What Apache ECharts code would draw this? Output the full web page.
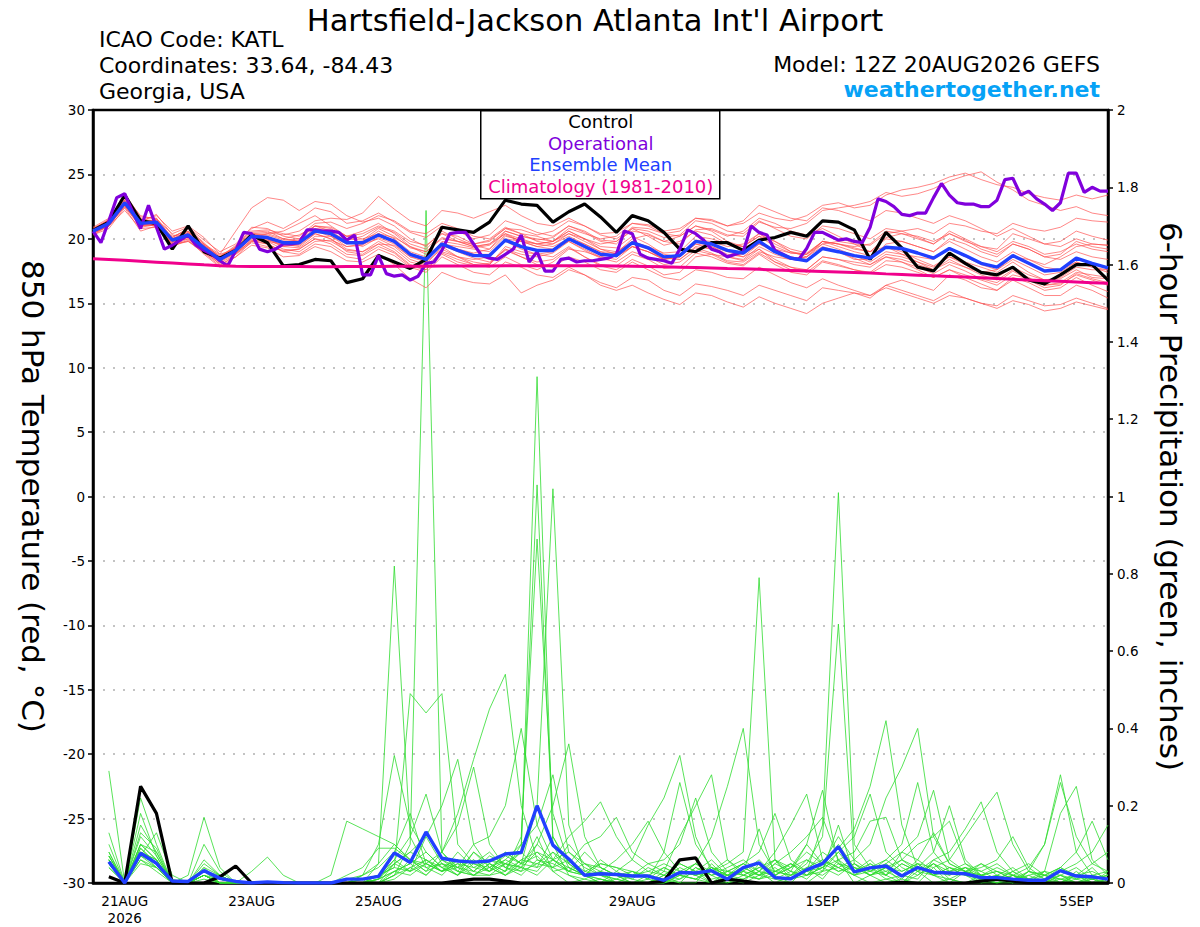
<!DOCTYPE html>
<html><head><meta charset="utf-8">
<script src="https://cdn.jsdelivr.net/npm/echarts/dist/echarts.min.js"></script>
<style>html,body{margin:0;padding:0;background:#fff}#c{width:1200px;height:927px}</style>
</head><body><div id="c"></div>
<script>
// ---- axis / label data ----
const STEP6 = 6;   // hours between ensemble outputs
const STEP3 = 3;   // hours between operational outputs
const xTickHours = [12, 60, 108, 156, 204, 276, 324, 372];
const xTickLabels = ['21AUG\n2026', '23AUG', '25AUG', '27AUG', '29AUG', '1SEP', '3SEP', '5SEP'];

// ---- 850 hPa temperature (C), 6-hourly from 12Z 20AUG ----
const controlTemp = [20.65,21.3,23.4,21.4,21.2,19.2,21.0,19.0,18.5,19.1,
 20.3,19.7,17.9,18.0,18.4,18.3,16.6,16.9,18.7,18.2,
 17.7,18.4,20.9,20.7,20.5,21.3,23.0,22.7,22.6,21.3,
 22.1,22.7,21.7,20.5,21.8,21.4,20.5,19.2,19.0,19.7,
 19.7,19.1,19.9,20.1,20.5,20.2,21.4,21.3,20.7,18.4,
 20.5,19.3,17.8,17.5,18.9,18.1,17.4,17.2,17.8,16.8,
 16.5,17.2,18.0,18.0,16.8];
const meanTemp = [20.6,21.2,22.8,21.2,21.3,19.9,20.3,19.3,18.4,19.1,
 20.2,20.1,19.7,19.7,20.6,20.4,19.7,19.7,20.3,19.8,
 18.8,18.4,19.6,19.1,18.7,18.7,19.9,19.4,19.1,19.1,
 20.0,19.4,18.8,18.7,19.7,19.3,18.6,18.7,19.8,19.6,
 19.1,18.9,19.8,19.0,18.5,18.3,19.25,19.0,18.7,18.5,
 19.35,19.25,18.9,18.5,19.25,18.7,18.1,17.8,18.7,18.1,
 17.5,17.6,18.5,18.1,17.75];
const climoTemp = [18.45,18.39,18.33,18.26,18.19,18.12,18.05,17.98,17.92,17.88,
 17.86,17.85,17.85,17.85,17.84,17.84,17.85,17.85,17.86,17.87,
 17.88,17.88,17.89,17.9,17.9,17.9,17.91,17.91,17.92,17.92,
 17.92,17.92,17.91,17.9,17.88,17.86,17.83,17.8,17.77,17.74,
 17.7,17.67,17.63,17.59,17.55,17.51,17.47,17.43,17.39,17.34,
 17.28,17.23,17.18,17.13,17.08,17.03,16.98,16.92,16.86,16.8,
 16.75,16.7,16.65,16.6,16.55];
// operational, 3-hourly
const operationalTemp = [20.6,19.7,21.4,23.2,23.5,22.1,20.8,22.6,20.9,19.2,
 19.5,19.9,20.3,19.5,19.1,18.8,18.3,17.9,19.1,20.5,
 20.4,19.2,19.0,19.2,19.6,19.6,19.7,20.7,20.7,20.6,
 20.6,20.5,19.9,20.3,17.2,17.2,18.7,17.3,17.1,17.2,
 16.8,17.1,18.1,18.2,19.1,20.4,20.5,20.5,19.6,18.7,
 18.5,18.4,18.8,19.2,20.3,18.2,19.0,17.5,17.5,18.4,
 18.5,18.2,18.3,18.3,18.4,18.5,18.8,20.6,20.4,18.8,
 18.5,18.4,18.3,18.1,19.2,20.7,20.4,19.9,19.2,19.0,
 18.6,18.8,19.0,21.0,20.5,20.3,19.1,18.8,18.5,18.4,
 19.25,20.5,20.5,20.2,19.9,20.0,19.8,19.7,20.9,23.1,
 22.9,22.5,21.9,21.8,22.0,22.0,23.2,24.3,23.4,22.8,
 22.7,22.7,22.5,22.5,23.0,24.6,24.7,23.4,23.7,23.1,
 22.7,22.2,22.8,25.1,25.1,23.6,24.0,23.7,23.7];

// ensemble members (temperature)
const tempM01 = [20.8,21.4,23.0,21.6,21.0,20.2,20.6,19.6,18.6,19.4, 20.5,20.6,20.0,20.3,21.0,20.9,20.2,20.4,21.0,20.6, 19.8,19.5,20.4,20.2,19.6,19.9,20.8,20.7,20.3,20.6, 21.4,21.0,20.4,20.5,21.2,21.1,20.6,20.8,21.6,21.5, 21.0,21.2,22.0,21.6,21.4,21.8,22.6,22.8,22.4,22.6, 23.4,23.8,24.0,24.3,24.8,25.1,24.6,24.2,24.0,23.5, 23.2,23.0,23.4,23.1,23.4];
const tempM02 = [20.4,21.0,22.6,21.0,21.4,19.8,20.0,19.0,18.2,19.4, 20.8,21.3,20.8,21.5,22.4,22.1,21.2,21.4,22.0,21.3, 20.5,20.1,21.0,20.6,20.0,20.3,21.4,21.0,20.5,20.2, 21.0,20.6,19.9,19.8,20.6,20.4,19.8,19.6,20.7,20.8, 20.3,20.2,21.3,20.9,20.8,21.2,22.2,22.4,22.6,22.9, 23.6,23.3,23.5,23.9,24.5,24.9,25.2,24.4,23.8,23.0, 22.6,22.2,22.5,22.0,21.8];
const tempM03 = [20.7,21.5,22.9,21.4,21.8,20.6,21.0,20.1,18.8,20.6, 22.4,23.2,23.0,22.2,22.9,22.7,21.8,21.3,21.6,21.0, 20.0,19.4,20.6,20.0,19.5,19.2,20.3,19.8,19.4,19.6, 20.2,19.6,19.0,18.6,19.4,19.0,18.5,18.4,19.4,19.2, 18.6,18.3,19.2,18.4,17.8,17.4,18.3,18.0,17.6,17.3, 18.0,17.8,17.4,17.0,17.6,17.2,16.8,16.4,17.2,16.9, 16.4,16.5,17.2,16.8,16.4];
const tempM04 = [20.5,21.1,22.5,21.0,21.6,20.1,20.8,19.7,18.5,19.2, 20.4,20.5,20.3,20.6,21.4,21.6,21.5,22.0,23.3,22.3, 21.4,21.0,22.2,22.0,21.6,22.1,22.6,21.8,21.2,21.0, 21.6,21.0,20.3,20.0,20.8,20.2,19.5,19.8,20.6,20.3, 19.6,19.4,20.2,19.8,19.0,18.8,19.8,19.6,19.3,19.0, 20.1,20.4,20.0,19.6,20.6,20.0,19.4,19.2,20.4,20.0, 19.6,19.8,20.6,20.2,19.9];
const tempM05 = [20.6,21.0,22.7,21.0,21.1,19.6,19.8,19.1,18.0,18.6, 19.5,19.3,18.6,18.7,19.4,19.0,18.3,18.2,18.8,18.0, 16.9,16.2,17.4,16.9,16.6,16.5,17.2,15.8,16.4,16.8, 17.6,17.2,16.6,16.2,17.0,16.8,16.0,15.6,16.5,16.3, 16.0,15.6,16.4,16.0,15.6,15.2,16.2,16.0,15.8,15.4, 16.4,16.0,15.6,15.2,15.9,15.4,15.0,14.8,15.6,15.2, 14.8,14.9,15.4,15.0,14.6];
const tempM06 = [20.3,20.8,22.4,20.6,21.0,19.4,19.9,18.8,17.8,18.6, 19.8,19.6,19.0,18.8,19.6,19.4,18.6,18.4,19.2,18.7, 17.8,17.4,18.6,18.0,17.4,17.2,18.2,17.8,17.2,17.0, 17.8,17.2,16.4,16.0,16.4,15.8,15.3,14.9,15.8,15.6, 15.1,14.7,15.5,15.0,14.6,14.2,15.0,15.4,15.8,15.6, 16.4,16.8,16.4,16.0,17.2,16.8,16.2,16.0,17.0,16.6, 16.0,16.2,17.0,16.4,15.9];
const tempM07 = [20.9,21.6,23.3,21.8,21.5,20.4,20.9,19.9,19.0,19.6, 20.9,20.8,20.2,20.0,21.0,20.8,20.0,19.9,20.8,20.2, 19.3,19.0,20.0,19.8,19.4,19.6,20.6,20.2,19.9,20.1, 21.0,20.5,19.8,19.6,20.8,20.6,20.1,20.3,21.4,21.2, 20.6,20.4,21.4,20.8,20.2,20.0,21.0,20.8,20.4,20.0, 20.8,20.6,20.1,19.6,20.4,19.9,19.2,18.8,19.6,19.2, 18.6,18.8,19.8,19.4,19.2];
const tempM08 = [20.4,21.0,22.2,20.8,20.9,19.5,19.8,18.9,17.9,18.8, 19.7,19.4,19.1,19.2,20.0,19.8,19.1,19.0,19.6,19.0, 18.0,17.6,18.9,18.4,18.0,18.1,19.2,18.6,18.2,18.4, 19.3,18.6,18.0,17.9,18.8,18.4,17.7,17.8,18.9,18.6, 18.1,17.9,18.8,18.0,17.4,17.2,18.2,17.9,17.6,17.4, 18.3,18.2,17.8,17.3,18.0,17.5,16.9,16.6,17.5,16.8, 16.2,16.4,17.3,16.9,16.6];
const tempM09 = [20.6,21.3,22.6,21.3,21.9,20.3,20.1,19.4,18.3,19.0, 20.0,20.4,20.6,21.2,21.8,21.0,20.2,20.6,21.2,20.4, 19.4,18.8,19.4,18.6,18.0,17.8,18.6,18.0,17.6,18.2, 19.2,19.0,18.6,18.9,20.0,20.3,19.8,20.2,21.0,20.7, 20.2,20.6,21.6,21.2,20.6,20.3,20.8,20.2,19.6,19.0, 19.4,18.8,18.2,17.6,18.2,17.8,17.4,17.6,18.6,18.4, 18.0,18.6,19.4,19.6,19.5];
const tempM10 = [20.5,21.2,22.9,21.2,21.1,19.7,20.5,19.5,18.7,19.3, 20.1,19.8,19.2,19.0,19.8,19.9,19.4,19.6,20.4,20.1, 19.4,19.0,20.1,19.8,19.6,19.8,20.8,20.4,20.2,19.8, 20.4,19.8,19.2,19.0,19.8,19.2,18.6,18.4,19.3,18.9, 18.3,18.2,19.0,18.6,18.4,18.6,19.6,19.8,19.6,19.5, 20.4,20.6,20.8,20.4,21.2,21.0,20.6,20.4,21.2,20.8, 20.6,20.9,21.6,21.4,21.3];
const tempM11 = [20.8,21.4,22.7,21.1,21.3,19.8,20.4,19.2,18.3,19.2, 20.3,20.2,19.6,19.4,20.4,20.0,19.2,19.0,19.8,19.2, 18.2,17.9,19.0,18.6,18.4,18.6,20.0,19.8,19.6,19.8, 20.8,20.4,20.0,20.2,21.2,21.0,20.4,20.2,21.0,20.6, 19.8,19.4,20.2,19.4,18.9,18.8,19.8,19.4,19.0,18.7, 19.4,19.0,18.4,17.9,18.6,18.0,17.4,17.0,17.8,17.2, 16.8,17.0,17.8,17.6,17.6];
const tempM12 = [20.4,21.1,22.8,21.0,21.2,19.9,20.2,19.3,18.4,19.0, 20.1,19.9,19.4,19.6,20.5,20.5,19.8,19.6,20.0,19.4, 18.4,18.0,19.4,19.2,18.8,18.8,19.8,19.2,18.8,18.6, 19.4,18.6,17.9,17.6,18.4,17.9,17.2,17.4,18.6,18.8, 18.6,18.8,19.6,19.0,18.6,18.4,19.3,19.0,18.5,18.0, 18.6,18.2,17.6,17.0,17.6,17.0,16.5,16.0,16.8,16.2, 15.6,15.6,16.4,16.0,15.4];
const tempM13 = [20.7,21.3,23.1,21.5,21.4,20.0,20.6,19.4,18.6,19.5, 20.6,20.7,20.4,20.2,21.2,21.3,20.8,21.2,21.8,21.4, 20.6,20.4,21.2,20.8,20.2,20.0,20.9,20.4,19.8,19.6, 20.4,20.0,19.6,19.8,20.9,20.8,20.4,20.6,21.6,21.4, 21.0,21.4,22.6,22.1,21.6,21.4,22.4,22.2,21.8,21.4, 22.2,22.0,21.6,21.2,21.8,21.4,20.8,20.2,20.8,20.2, 19.6,19.4,20.0,19.6,19.5];
const tempM14 = [20.5,21.0,22.6,21.1,21.0,19.6,20.2,19.2,18.2,18.9, 19.9,19.8,19.6,19.8,20.6,20.2,19.4,19.5,20.4,19.8, 18.9,18.4,19.5,19.0,18.5,18.2,19.1,18.6,18.0,17.8, 18.6,18.2,17.6,17.4,18.2,17.6,17.0,16.8,17.6,17.4, 17.0,16.9,17.8,17.2,16.6,16.2,16.9,16.4,16.0,15.6, 16.2,15.8,15.4,15.0,15.6,15.4,15.0,14.6,15.2,14.9, 14.4,14.6,15.1,14.8,14.5];
const tempM15 = [20.6,21.2,23.5,21.7,21.6,20.0,20.5,19.5,18.5,19.3, 20.4,20.3,19.9,20.0,21.0,20.6,19.8,19.4,20.1,19.6, 18.6,18.2,19.8,19.6,19.3,19.5,20.4,20.0,19.6,19.4, 20.0,19.4,18.8,18.6,19.4,19.0,18.4,18.6,19.8,19.4, 18.8,18.6,19.6,19.2,18.9,18.8,19.6,19.2,18.7,18.2, 19.0,18.8,18.6,18.4,19.2,18.6,18.0,17.6,18.4,17.8, 17.2,17.4,18.2,17.8,17.6];
const tempM16 = [20.3,21.0,22.5,20.9,21.1,19.5,20.0,18.9,18.1,18.8, 19.9,19.6,19.0,19.2,20.0,19.6,18.8,18.7,19.4,18.9, 17.9,17.6,18.8,18.2,17.9,18.0,19.4,19.0,18.8,19.0, 20.0,19.6,19.0,18.9,19.8,19.4,18.9,19.0,20.2,20.0, 19.6,19.4,20.4,19.6,19.0,18.6,19.4,19.0,18.4,18.4, 19.6,19.8,19.4,19.0,20.0,19.6,19.0,18.6,19.6,19.2, 18.6,18.4,19.0,18.6,18.4];
const tempM17 = [20.8,21.5,23.0,21.4,21.2,20.1,20.8,19.6,18.8,19.2, 20.2,20.0,19.4,19.3,20.2,20.2,19.6,19.8,20.6,20.0, 19.0,18.6,19.7,19.2,18.9,19.2,20.6,20.2,20.0,19.8, 20.6,20.0,19.4,19.3,20.2,19.6,18.8,18.6,19.6,19.4, 19.0,18.6,19.2,18.2,17.6,17.6,18.6,18.4,18.2,18.0, 18.8,18.6,18.2,17.8,18.6,18.2,17.8,17.4,18.2,17.4, 16.8,16.9,17.6,17.0,16.9];
const tempM18 = [20.6,21.1,22.9,21.3,21.5,20.0,20.3,19.4,18.4,19.1, 20.2,20.0,19.5,19.5,20.4,20.0,19.0,18.8,19.6,19.5, 18.6,18.4,19.6,19.4,19.2,19.0,20.2,19.9,19.6,19.8, 20.6,20.0,19.2,18.8,19.6,19.2,18.4,18.6,19.6,19.2, 18.6,18.4,19.4,18.8,18.4,18.6,19.8,19.6,19.4,19.6, 20.6,20.4,20.2,19.8,20.4,19.8,19.4,19.0,19.8,19.4, 18.8,19.0,19.6,19.2,19.0];
const tempM19 = [20.5,21.2,22.7,21.1,21.3,19.8,20.1,19.2,18.3,18.9, 19.8,19.9,19.8,19.9,20.8,20.7,20.2,20.0,20.4,19.8, 18.8,18.2,19.2,18.6,18.2,18.0,19.2,18.8,18.6,18.9, 19.8,19.1,18.5,18.2,19.0,18.6,18.0,18.2,19.1,18.8, 18.2,18.0,18.9,18.2,17.8,17.6,18.6,18.4,18.0,17.8, 18.6,18.4,18.0,17.6,18.4,17.8,17.2,16.8,17.6,17.0, 16.4,16.6,17.4,17.2,17.0];
const tempM20 = [20.7,21.3,22.8,21.2,21.0,19.7,20.4,19.5,18.5,19.3, 20.3,20.4,20.0,19.8,20.6,20.4,19.9,20.2,20.9,20.5, 19.6,19.2,20.4,19.8,19.4,19.6,20.4,19.8,19.4,19.2, 19.8,19.2,18.6,18.4,19.4,19.0,18.4,18.8,19.9,19.8, 19.4,19.6,20.4,19.8,19.2,18.9,19.8,19.6,19.2,19.0, 20.0,19.8,19.4,19.0,19.8,19.2,18.6,18.2,19.0,18.4, 17.8,17.6,18.2,17.8,17.4];

// ---- 6-hour precipitation (inches), 6-hourly from 12Z 20AUG (none at hour 0) ----
const controlPrecip = [null, 0.016,0,0.25,0.18,0,0,0,0.016, 0.044,0,0,0,0,0,0,0, 0,0,0,0,0,0,0.005,0.01, 0.01,0.005,0,0,0,0,0,0, 0,0,0,0.005,0.06,0.065,0,0.01, 0.005,0,0,0,0,0,0,0, 0,0,0.002,0,0,0,0,0.005, 0.01,0.005,0,0,0,0,0,0];
const meanPrecip = [null, 0.055,0,0.077,0.051,0.005,0.004,0.032,0.012, 0.004,0,0.003,0.001,0,0,0,0.01, 0.01,0.017,0.078,0.053,0.132,0.064,0.057,0.054, 0.057,0.075,0.079,0.2,0.098,0.062,0.02,0.024, 0.022,0.018,0.018,0.007,0.027,0.026,0.032,0.01, 0.04,0.052,0.014,0.011,0.034,0.05,0.094,0.029, 0.039,0.044,0.018,0.04,0.028,0.026,0.024,0.014, 0.014,0.01,0.007,0.007,0.032,0.018,0.016,0.01];

const precipM01 = [null, 0.06,0,0.08,0.05,0,0,0.02,0, 0,0,0,0,0,0,0,0, 0,0,0.02,0.10,1.74,0.08,0.03,0.02, 0.05,0.02,0.04,0.12,0.03,0,0.01,0, 0,0,0,0,0.01,0.03,0,0.02, 0,0.05,0.01,0,0,0.03,0.15,0.02, 0,0.01,0,0.03,0,0.01,0,0, 0.02,0,0,0,0.01,0,0,0];
const precipM02 = [null, 0.04,0,0.1,0.06,0,0,0.03,0.01, 0,0,0,0,0,0,0,0, 0,0.05,0.82,0.12,0.04,0.02,0.06,0.03, 0.02,0.05,0.08,1.31,0.1,0.02,0,0.01, 0,0,0,0.02,0,0,0.05,0.01, 0.03,0.14,0.02,0,0.04,0.01,0.06,0, 0.02,0,0.01,0,0.04,0,0,0.01, 0,0,0.02,0,0,0.03,0,0];
const precipM03 = [null, 0.05,0,0.07,0.04,0,0,0.04,0, 0,0,0,0,0,0,0,0, 0.01,0.02,0.04,0.49,0.44,0.49,0.1,0.05, 0.03,0.08,0.05,0.2,1.02,0.15,0.03,0.02, 0,0,0,0,0.03,0.02,0,0, 0.01,0.03,0,0.02,0.05,0.12,0.67,0.05, 0.02,0.04,0,0.02,0.05,0.01,0,0.02, 0,0.01,0,0,0.02,0,0.01,0];
const precipM04 = [null, 0.08,0,0.12,0.07,0,0,0.05,0.02, 0,0,0,0,0,0,0,0, 0,0.01,0.06,0.03,0.12,0.05,0.02,0.08, 0.04,0.06,0.1,1.03,0.12,0.04,0.02,0, 0.01,0,0,0.01,0.04,0.02,0.03,0.05, 0.08,0.79,0.06,0.01,0.02,0.04,0.08,0.03, 0.05,0.02,0,0.04,0.02,0,0.03,0.01, 0.02,0,0.03,0.1,0.28,0.08,0.02,0.01];
const precipM05 = [null, 0.07,0,0.06,0.04,0.01,0,0.02,0, 0,0,0,0,0,0,0,0, 0,0,0.05,0.08,0.06,0.03,0.05,0.02, 0.02,0.03,0.12,0.89,0.18,0.05,0.02,0.03, 0,0,0,0,0.02,0.01,0,0.03, 0.02,0.04,0.06,0.02,0.03,0.15,1.01,0.1, 0.04,0.02,0.05,0.03,0.02,0.04,0.02,0, 0.01,0.02,0,0.03,0.18,0.25,0.06,0.02];
const precipM06 = [null, 0.29,0,0.09,0.05,0,0,0.03,0.01, 0,0,0,0,0,0,0,0.01, 0.02,0.05,0.1,0.06,0.03,0.08,0.18,0.32, 0.45,0.54,0.2,0.06,0.04,0.02,0.01,0.03, 0.02,0,0,0.01,0,0.04,0.02,0, 0.02,0.01,0.05,0.03,0.01,0.05,0.09,0.14, 0.25,0.42,0.15,0.04,0.02,0.01,0.03,0, 0,0.02,0,0.01,0,0.02,0,0.03];
const precipM07 = [null, 0.05,0,0.08,0.06,0,0,0.02,0, 0,0,0,0,0,0,0,0, 0,0,0.03,0.05,0.02,0.06,0.04,0.1, 0.12,0.2,0.4,0.15,0.06,0.03,0.02,0.01, 0,0,0,0.03,0.02,0.05,0.12,0.25, 0.4,0.1,0.03,0.02,0.06,0.04,0.02,0.05, 0.03,0.06,0.1,0.26,0.08,0.03,0.05,0.02, 0.01,0,0.03,0.02,0,0.01,0.04,0];
const precipM08 = [null, 0.06,0,0.22,0.1,0,0,0.04,0.02, 0,0,0,0,0,0,0,0, 0.01,0.02,0.04,0.03,0.05,0.03,0.08,0.04, 0.06,0.05,0.03,0.1,0.2,0.36,0.12,0.04, 0.02,0,0.01,0,0.02,0.01,0.04,0.02, 0.03,0.06,0.02,0.04,0.08,0.05,0.12,0.06, 0.1,0.22,0.3,0.4,0.12,0.05,0.03,0.02, 0.03,0.01,0,0.02,0.01,0,0.02,0.01];
const precipM09 = [null, 0.07,0,0.05,0.04,0,0,0.01,0, 0,0,0,0,0,0,0,0, 0,0.01,0.05,0.08,0.12,0.2,0.32,0.1, 0.04,0.02,0.06,0.05,0.08,0.03,0.02,0, 0.03,0.06,0.15,0.22,0.33,0.12,0.03,0.01, 0,0.02,0.04,0.01,0.03,0.08,0.05,0.02, 0.04,0.01,0.02,0.06,0.03,0.02,0.04,0.01, 0,0.02,0.01,0,0.03,0.05,0.08,0.15];
const precipM10 = [null, 0.05,0,0.1,0.08,0,0,0.02,0, 0,0,0,0,0,0,0,0, 0.01,0,0.02,0.06,0.05,0.08,0.15,0.3, 0.1,0.04,0.08,0.04,0.12,0.05,0.02,0.01, 0,0.02,0.05,0.03,0.12,0.2,0.28,0.06, 0.03,0.01,0.02,0.05,0.03,0.04,0.1,0.04, 0.02,0.03,0.01,0.05,0.04,0.06,0.12,0.18, 0.235,0.1,0.03,0.01,0.02,0,0.01,0];
const precipM11 = [null, 0.08,0,0.13,0.09,0,0,0.06,0.02, 0,0,0,0,0,0,0,0, 0.02,0.1,0.33,0.15,0.08,0.04,0.02,0.06, 0.03,0.08,0.05,0.1,0.06,0.04,0.02,0.05, 0.04,0.03,0.01,0.08,0.26,0.1,0.04,0.02, 0.05,0.02,0.01,0.03,0.02,0.06,0.04,0.02, 0.05,0.03,0.06,0.04,0.08,0.2,0.06,0.02, 0.01,0.03,0,0.01,0.04,0.02,0.01,0.02];
const precipM12 = [null, 0.06,0,0.18,0.07,0,0,0.03,0.01, 0,0,0,0,0,0,0,0, 0,0.02,0.06,0.12,0.23,0.08,0.04,0.02, 0.05,0.03,0.06,0.08,0.04,0.1,0.05,0.02, 0.01,0,0.02,0.01,0.03,0.05,0.02,0.04, 0.06,0.03,0.08,0.15,0.23,0.06,0.04,0.02, 0.03,0.05,0.02,0.01,0.06,0.04,0.02,0.05, 0.02,0.04,0.01,0,0.02,0.01,0,0.01];
const precipM13 = [null, 0.05,0,0.07,0.05,0,0.02,0.17,0.04, 0,0,0,0,0,0,0,0, 0.02,0.04,0.08,0.18,0.05,0.03,0.06,0.05, 0.08,0.04,0.02,0.06,0.05,0.03,0.08,0.04, 0.02,0.01,0,0.02,0.05,0.03,0.01,0.02, 0.04,0.02,0.06,0.03,0.1,0.24,0.05,0.03, 0.06,0.02,0.08,0.12,0.24,0.06,0.03,0.02, 0.04,0.02,0.01,0.03,0,0.02,0.03,0.01];
const precipM14 = [null, 0.06,0,0.08,0.06,0,0,0.03,0, 0,0,0,0,0,0,0.02,0.16, 0.14,0.12,0.1,0.06,0.04,0.05,0.03,0.08, 0.05,0.03,0.1,0.15,0.28,0.08,0.04,0.02, 0.01,0.03,0.02,0.04,0.02,0.01,0.03,0.02, 0.01,0.03,0.02,0.04,0.06,0.03,0.08,0.12, 0.23,0.08,0.04,0.02,0.05,0.03,0.02,0.01, 0.02,0.01,0.03,0.02,0.01,0.02,0,0.01];
const precipM15 = [null, 0.04,0,0.06,0.03,0,0,0.02,0, 0,0,0,0,0,0,0,0, 0,0.01,0.03,0.05,0.08,0.04,0.06,0.03, 0.07,0.05,0.04,0.08,0.06,0.12,0.16,0.21, 0.12,0.06,0.03,0.02,0.01,0.04,0.02,0.03, 0.05,0.08,0.18,0.06,0.03,0.02,0.05,0.04, 0.03,0.02,0.05,0.03,0.06,0.08,0.14,0.21, 0.08,0.03,0.01,0.02,0.04,0.01,0.02,0.03];
const precipM16 = [null, 0.05,0,0.09,0.05,0,0,0.02,0.01, 0,0,0,0,0,0,0,0, 0,0,0.02,0.04,0.06,0.03,0.05,0.04, 0.03,0.06,0.04,0.03,0.08,0.05,0.1,0.12, 0.17,0.08,0.05,0.06,0.1,0.22,0.08,0.03, 0.02,0.01,0.03,0.02,0.04,0.06,0.03,0.05, 0.02,0.04,0.06,0.03,0.05,0.02,0.04,0.03, 0.01,0.03,0.05,0.02,0.04,0.08,0.16,0.06];
const precipM17 = [null, 0.13,0,0.1,0.06,0,0,0.03,0.02, 0,0,0,0,0,0,0,0, 0,0.02,0.05,0.03,0.06,0.04,0.02,0.05, 0.04,0.07,0.05,0.04,0.06,0.08,0.05,0.03, 0.06,0.1,0.16,0.08,0.03,0.02,0.04,0.01, 0.03,0.02,0.05,0.08,0.12,0.17,0.06,0.03, 0.04,0.06,0.03,0.05,0.02,0.04,0.03,0.05, 0.03,0.02,0,0.01,0.03,0.02,0.01,0.02];
const precipM18 = [null, 0.07,0,0.15,0.08,0,0,0.02,0, 0,0,0,0,0,0,0,0, 0,0,0.01,0.04,0.02,0.06,0.03,0.02, 0.04,0.02,0.05,0.07,0.03,0.04,0.02,0.06, 0.03,0.01,0.04,0.02,0.05,0.03,0.06,0.02, 0.04,0.02,0.03,0.05,0.02,0.04,0.06,0.08, 0.16,0.17,0.06,0.1,0.12,0.16,0.05,0.03, 0.05,0.02,0.04,0.01,0.03,0.02,0.05,0.03];
const precipM19 = [null, 0.06,0,0.08,0.04,0,0,0.02,0, 0,0.03,0.067,0.02,0,0,0,0, 0,0.01,0.03,0.02,0.05,0.03,0.04,0.06, 0.03,0.05,0.04,0.02,0.06,0.03,0.05,0.04, 0.02,0.03,0.01,0.04,0.02,0.05,0.03,0.06, 0.02,0.04,0.03,0.05,0.02,0.03,0.04,0.06, 0.03,0.05,0.08,0.06,0.13,0.05,0.03,0.04, 0.06,0.12,0.04,0.1,0.26,0.12,0.05,0.08];
const precipM20 = [null, 0.1,0,0.07,0.13,0.02,0,0.1,0.03, 0,0,0,0,0,0,0,0.02, 0.04,0.09,0.09,0.06,0.03,0.05,0.04,0.03, 0.06,0.04,0.03,0.05,0.04,0.06,0.03,0.05, 0.04,0.02,0.03,0.05,0.03,0.02,0.04,0.03, 0.05,0.03,0.06,0.04,0.1,0.05,0.03,0.04, 0.02,0.04,0.03,0.05,0.02,0.03,0.04,0.02, 0.03,0.01,0.02,0.03,0.02,0.04,0.01,0.02];

const tempMembers = [tempM01,tempM02,tempM03,tempM04,tempM05,tempM06,tempM07,tempM08,tempM09,tempM10,
  tempM11,tempM12,tempM13,tempM14,tempM15,tempM16,tempM17,tempM18,tempM19,tempM20];
const precipMembers = [precipM01,precipM02,precipM03,precipM04,precipM05,precipM06,precipM07,precipM08,precipM09,precipM10,
  precipM11,precipM12,precipM13,precipM14,precipM15,precipM16,precipM17,precipM18,precipM19,precipM20];

// ---- build ----
const FONT = '"DejaVu Sans", "Liberation Sans", sans-serif';
const at6 = arr => arr.map((v, i) => [i * STEP6, v]);
const at3 = arr => arr.map((v, i) => [i * STEP3, v]);

const series = [];
precipMembers.forEach((m, k) => series.push({
  name: 'precip member ' + (k + 1), type: 'line', yAxisIndex: 1, data: at6(m), symbol: 'none',
  lineStyle: { color: '#2fdc2f', width: 0.8 }, z: 1, silent: true
}));
tempMembers.forEach((m, k) => series.push({
  name: 'temp member ' + (k + 1), type: 'line', yAxisIndex: 0, data: at6(m), symbol: 'none',
  lineStyle: { color: '#ff4d4d', width: 0.75, opacity: 0.9 }, z: 2, silent: true
}));
series.push({ name: 'Control precip', type: 'line', yAxisIndex: 1, data: at6(controlPrecip), symbol: 'none',
  lineStyle: { color: '#000', width: 3.2 }, z: 4 });
series.push({ name: 'Ensemble Mean precip', type: 'line', yAxisIndex: 1, data: at6(meanPrecip), symbol: 'none',
  lineStyle: { color: '#2040ff', width: 3.4 }, z: 5 });
series.push({ name: 'Control', type: 'line', yAxisIndex: 0, data: at6(controlTemp), symbol: 'none',
  lineStyle: { color: '#000', width: 3.2 }, z: 4 });
series.push({ name: 'Operational', type: 'line', yAxisIndex: 0, data: at3(operationalTemp), symbol: 'none',
  lineStyle: { color: '#8000dc', width: 3.2 }, z: 5 });
series.push({ name: 'Climatology (1981-2010)', type: 'line', yAxisIndex: 0, data: at6(climoTemp), symbol: 'none',
  lineStyle: { color: '#f0008c', width: 3 }, z: 6 });
series.push({ name: 'Ensemble Mean', type: 'line', yAxisIndex: 0, data: at6(meanTemp), symbol: 'none',
  lineStyle: { color: '#2040ff', width: 3.4 }, z: 7 });

const legendItems = [
  { text: 'Control', color: '#000000' },
  { text: 'Operational', color: '#8000dc' },
  { text: 'Ensemble Mean', color: '#2040ff' },
  { text: 'Climatology (1981-2010)', color: '#f0008c' }
];

const chart = echarts.init(document.getElementById('c'), null, { renderer: 'svg' });
chart.setOption({
  animation: false,
  backgroundColor: '#fff',
  textStyle: { fontFamily: FONT },
  title: [
    { text: "Hartsfield-Jackson Atlanta Int'l Airport", left: 590, top: 0, textAlign: 'center',
      textStyle: { fontSize: 30.5, fontWeight: 'normal', color: '#000', fontFamily: FONT } },
    { text: 'ICAO Code: KATL\nCoordinates: 33.64, -84.43\nGeorgia, USA', left: 94, top: 21,
      textStyle: { fontSize: 22, fontWeight: 'normal', color: '#000', lineHeight: 26, fontFamily: FONT } },
    { text: 'Model: 12Z 20AUG2026 GEFS', right: 95, top: 48,
      textStyle: { fontSize: 22, fontWeight: 'normal', color: '#000', fontFamily: FONT } },
    { text: 'weathertogether.net', right: 95, top: 73,
      textStyle: { fontSize: 22, fontWeight: 'bold', color: '#06a2f6', fontFamily: FONT } }
  ],
  grid: { left: 93, right: 92, top: 110, bottom: 44, show: true, borderColor: '#000', borderWidth: 2.5, backgroundColor: '#fff' },
  xAxis: {
    type: 'value', min: 0, max: 384, interval: 12,
    axisLine: { show: true, onZero: false, lineStyle: { color: '#000', width: 2.5 } },
    axisTick: { show: false }, splitLine: { show: false },
    axisLabel: {
      color: '#000', fontSize: 13.5, fontFamily: FONT, margin: 9, lineHeight: 17,
      formatter: v => { const k = xTickHours.indexOf(v); return k < 0 ? '' : xTickLabels[k]; }
    }
  },
  yAxis: [
    {
      type: 'value', min: -30, max: 30, interval: 5, position: 'left',
      axisLine: { show: true, onZero: false, lineStyle: { color: '#000', width: 2.5 } },
      axisTick: { show: true, length: 5, lineStyle: { color: '#000', width: 1.5 } },
      axisLabel: { color: '#000', fontSize: 13.5, fontFamily: FONT, margin: 8 },
      splitLine: { show: true, showMinLine: false, showMaxLine: false,
        lineStyle: { color: '#b0b0b0', width: 1.5, type: [2, 8] } },
      name: '850 hPa Temperature (red, °C)', nameLocation: 'middle', nameRotate: -90, nameGap: 45,
      nameTextStyle: { fontSize: 31, color: '#000', fontFamily: FONT }
    },
    {
      type: 'value', min: 0, max: 2, interval: 0.2, position: 'right',
      axisLine: { show: true, onZero: false, lineStyle: { color: '#000', width: 2.5 } },
      axisTick: { show: true, length: 5, lineStyle: { color: '#000', width: 1.5 } },
      axisLabel: { color: '#000', fontSize: 13.5, fontFamily: FONT, margin: 9,
        formatter: v => String(Math.round(v * 10) / 10) },
      splitLine: { show: false },
      name: '6-hour Precipitation (green, inches)', nameLocation: 'middle', nameRotate: -90, nameGap: 47,
      nameTextStyle: { fontSize: 31, color: '#000', fontFamily: FONT }
    }
  ],
  graphic: [{
    type: 'group', left: 480, top: 110, z: 100,
    children: [
      { type: 'rect', shape: { x: 0, y: 0, width: 239, height: 88 }, style: { fill: '#fff', stroke: '#000', lineWidth: 1.5 } }
    ].concat(legendItems.map((it, k) => ({
      type: 'text', x: 120, y: 11 + k * 21.5,
      style: { text: it.text, fill: it.color, font: '18px ' + FONT, align: 'center', verticalAlign: 'middle' }
    })))
  }],
  series: series
});
</script>
</body></html>
